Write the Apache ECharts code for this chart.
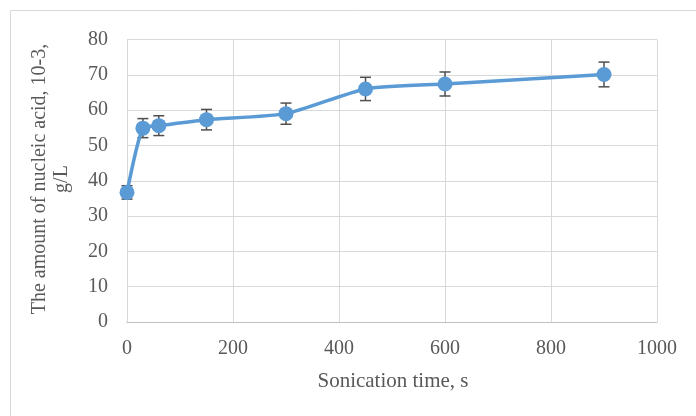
<!DOCTYPE html>
<html>
<head>
<meta charset="utf-8">
<script src="https://cdn.jsdelivr.net/npm/echarts@6/dist/echarts.min.js"></script>
<style>
  html, body { margin: 0; padding: 0; background: #fff; }
  #chart { width: 696px; height: 416px; }
</style>
</head>
<body>
<div id="chart"></div>
<script>
// Sonication time (s) and nucleic acid released (10^-3 g/L) with error margins
const sonicationTime = [0, 30, 60, 150, 300, 450, 600, 900];
const nucleicAcid = [36.7, 54.9, 55.6, 57.3, 59.0, 66.0, 67.4, 70.1];
const errorMargin = [1.9, 2.7, 2.8, 2.9, 3.0, 3.3, 3.4, 3.5];
const xTicks = { min: 0, max: 1000, interval: 200 };
const yTicks = { min: 0, max: 80, interval: 10 };

const textColor = '#595959';
const fontFamily = '"Liberation Serif", "Times New Roman", serif';

const points = sonicationTime.map((t, i) => [t, nucleicAcid[i]]);
const errorRows = sonicationTime.map((t, i) => [t, nucleicAcid[i] - errorMargin[i], nucleicAcid[i] + errorMargin[i]]);

const chart = echarts.init(document.getElementById('chart'), null, { renderer: 'canvas' });

chart.setOption({
  animation: false,
  backgroundColor: '#ffffff',
  grid: { left: 127, right: 39, top: 39.5, bottom: 94, containLabel: false },
  xAxis: {
    type: 'value',
    min: xTicks.min, max: xTicks.max, interval: xTicks.interval,
    axisLine: { show: true, lineStyle: { color: '#BFBFBF', width: 1 } },
    axisTick: { show: false },
    axisLabel: { color: textColor, fontFamily, fontSize: 20, margin: 17, formatter: v => String(v) },
    splitLine: { show: true, lineStyle: { color: '#D9D9D9', width: 1 } }
  },
  yAxis: {
    type: 'value',
    min: yTicks.min, max: yTicks.max, interval: yTicks.interval,
    axisLine: { show: false },
    axisTick: { show: false },
    axisLabel: { color: textColor, fontFamily, fontSize: 20, margin: 19 },
    splitLine: { show: true, lineStyle: { color: '#D9D9D9', width: 1 } }
  },
  graphic: [
    {
      type: 'rect', silent: true, z: -10,
      shape: { x: 10.5, y: 10.5, width: 800, height: 500 },
      style: { fill: 'none', stroke: '#D9D9D9', lineWidth: 1 }
    },
    {
      type: 'text', silent: true,
      x: 51, y: 179, rotation: Math.PI / 2,
      style: {
        text: 'The amount of nucleic acid, 10-3,\ng/L',
        fill: textColor, font: '20px ' + fontFamily,
        align: 'center', verticalAlign: 'middle', lineHeight: 22
      }
    },
    {
      type: 'text', silent: true,
      x: 393, y: 381,
      style: {
        text: 'Sonication time, s',
        fill: textColor, font: '21px ' + fontFamily,
        align: 'center', verticalAlign: 'middle'
      }
    }
  ],
  series: [
    {
      type: 'custom',
      z: 1,
      data: errorRows,
      encode: { x: 0, y: [1, 2] },
      renderItem: function (params, api) {
        const x = api.value(0);
        const lo = api.coord([x, api.value(1)]);
        const hi = api.coord([x, api.value(2)]);
        const cap = 5.5;
        const style = { stroke: '#505050', lineWidth: 1.5 };
        return {
          type: 'group',
          children: [
            { type: 'line', shape: { x1: lo[0], y1: lo[1], x2: hi[0], y2: hi[1] }, style },
            { type: 'line', shape: { x1: lo[0] - cap, y1: lo[1], x2: lo[0] + cap, y2: lo[1] }, style },
            { type: 'line', shape: { x1: hi[0] - cap, y1: hi[1], x2: hi[0] + cap, y2: hi[1] }, style }
          ]
        };
      }
    },
    {
      type: 'line',
      z: 2,
      data: points,
      smooth: 0.2,
      symbol: 'circle',
      symbolSize: 15,
      lineStyle: { color: '#5B9BD5', width: 3.5 },
      itemStyle: { color: '#5B9BD5' }
    }
  ]
});
</script>
</body>
</html>
